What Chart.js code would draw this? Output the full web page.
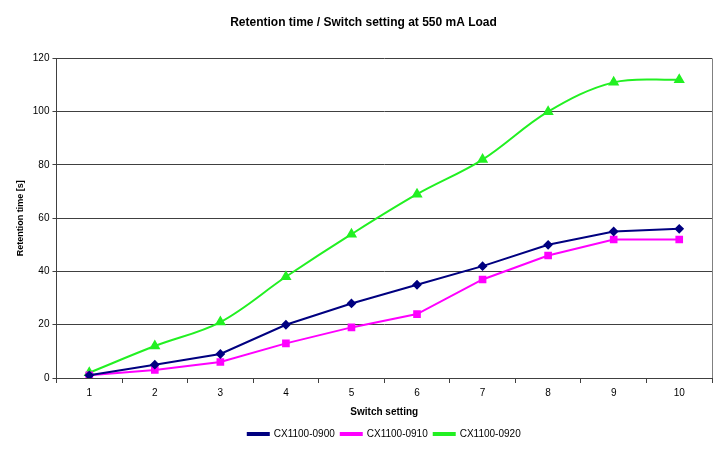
<!DOCTYPE html>
<html>
<head>
<meta charset="utf-8">
<script src="https://cdn.jsdelivr.net/npm/chart.js@4/dist/chart.umd.min.js"></script>
<style>
  html, body { margin: 0; padding: 0; background: #fff; }
  #wrap { width: 724px; height: 449px; }
</style>
</head>
<body>
<div id="wrap"><canvas id="chart"></canvas></div>
<script>
const switchSettings = ["1", "2", "3", "4", "5", "6", "7", "8", "9", "10"];
const cx0900 = [1, 5, 9, 20, 28, 35, 42, 50, 55, 56];
const cx0910 = [1, 3, 6, 13, 19, 24, 37, 46, 52, 52];
const cx0920 = [2, 12, 21, 38, 54, 69, 82, 100, 111, 112];

const font = "'Liberation Sans', Arial, sans-serif";
const lineGrey = "#404040";

// grey frame line on the right side of the plot, like the Excel original
const rightBorder = {
  id: "rightBorder",
  afterDraw(chart) {
    const { ctx, chartArea } = chart;
    ctx.save();
    ctx.strokeStyle = "#808080";
    ctx.lineWidth = 1;
    ctx.beginPath();
    ctx.moveTo(chartArea.right + 0.5, chartArea.top);
    ctx.lineTo(chartArea.right + 0.5, chartArea.bottom);
    ctx.stroke();
    ctx.restore();
  },
};

const ctx = document.getElementById("chart").getContext("2d");
new Chart(ctx, {
  type: "line",
  data: {
    labels: switchSettings,
    datasets: [
      {
        label: "CX1100-0900",
        data: cx0900,
        borderColor: "#000080",
        backgroundColor: "#000080",
        borderWidth: 2,
        pointStyle: "rectRot",
        pointRadius: 3.5,
        tension: 0,
      },
      {
        label: "CX1100-0910",
        data: cx0910,
        borderColor: "#FF00FF",
        backgroundColor: "#FF00FF",
        borderWidth: 2,
        pointStyle: "rect",
        pointRadius: 4,
        tension: 0,
      },
      {
        label: "CX1100-0920",
        data: cx0920,
        borderColor: "#22F022",
        backgroundColor: "#22F022",
        borderWidth: 2,
        pointStyle: "triangle",
        pointRadius: 4.5,
        tension: 0.35,
      },
    ],
  },
  options: {
    responsive: true,
    maintainAspectRatio: false,
    animation: false,
    layout: {
      padding: { left: 15, right: 12, top: 8, bottom: 0 },
    },
    plugins: {
      title: {
        display: true,
        text: "Retention time / Switch setting at 550 mA Load",
        color: "#000",
        font: { family: font, size: 12, weight: "bold" },
        padding: { top: 7, bottom: 29 },
      },
      legend: {
        position: "bottom",
        fullSize: false,
        labels: {
          color: "#000",
          font: { family: font, size: 10 },
          boxWidth: 21,
          boxHeight: 2,
          padding: 6,
        },
      },
      tooltip: { enabled: false },
    },
    scales: {
      x: {
        offset: true,
        grid: {
          offset: true,
          drawOnChartArea: false,
          color: lineGrey,
          tickLength: 5,
        },
        border: { color: lineGrey },
        ticks: {
          color: "#000",
          font: { family: font, size: 10 },
          padding: 4,
          maxRotation: 0,
        },
        title: {
          display: true,
          text: "Switch setting",
          color: "#000",
          font: { family: font, size: 10, weight: "bold" },
          padding: { top: 3, bottom: 5 },
        },
      },
      y: {
        min: 0,
        max: 120,
        ticks: {
          stepSize: 20,
          color: "#000",
          font: { family: font, size: 10 },
          padding: 3,
        },
        grid: {
          color: lineGrey,
          tickLength: 4,
        },
        border: { color: lineGrey },
        title: {
          display: true,
          text: "Retention time [s]",
          color: "#000",
          font: { family: font, size: 9, weight: "bold" },
          padding: { top: 0, bottom: 4 },
        },
      },
    },
  },
  plugins: [rightBorder],
});
</script>
</body>
</html>
